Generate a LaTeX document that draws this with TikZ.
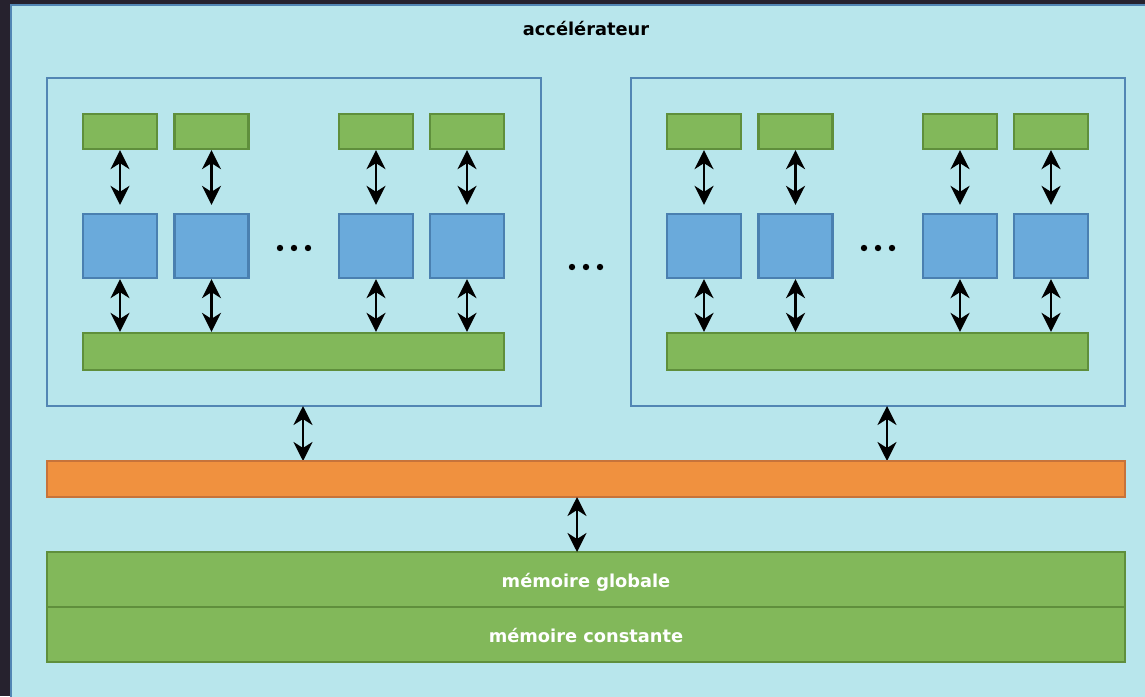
\documentclass[tikz,border=0pt]{standalone}
\usepackage{fontspec}
\setmainfont{DejaVu Sans}
\usetikzlibrary{arrows.meta,calc}
\definecolor{darkbg}{HTML}{26222E}
\definecolor{accfill}{HTML}{B8E6EC}
\definecolor{accline}{HTML}{5286B4}
\definecolor{gfill}{HTML}{82B85A}
\definecolor{gline}{HTML}{5F8F3C}
\definecolor{bfill}{HTML}{6AAADB}
\definecolor{bline}{HTML}{4A80B0}
\definecolor{ofill}{HTML}{F0913F}
\definecolor{oline}{HTML}{C7733A}
\tikzset{
  box/.style={draw, line width=2.3pt, inner sep=0pt, anchor=center},
  cluster/.style={box, draw=accline, fill=none},
  regbox/.style={box, draw=gline, fill=gfill, minimum width=74pt, minimum height=35pt},
  corebox/.style={box, draw=bline, fill=bfill, minimum width=74pt, minimum height=64pt},
  sharedbox/.style={box, draw=gline, fill=gfill, minimum width=421pt, minimum height=37pt},
  busbox/.style={box, draw=oline, fill=ofill, minimum width=1078pt, minimum height=36pt},
  txt/.style={font=\bfseries\fontsize{17.8}{21}\selectfont},
  membox/.style={box, draw=gline, fill=gfill, minimum width=1078pt, minimum height=55pt},
  memtext/.style={txt, text=white, inner sep=0pt},
  link/.style={{Stealth[length=19pt,width=19pt,inset=6pt]}-{Stealth[length=19pt,width=19pt,inset=6pt]}, line width=2.6pt, black},
  dot/.style={fill=black},
}
\newcommand{\threedots}[1]{%
  \fill[dot] ($(#1)+(-14,0)$) circle (3.2pt);
  \fill[dot] (#1) circle (3.2pt);
  \fill[dot] ($(#1)+(14,0)$) circle (3.2pt);}
\begin{document}
\begin{tikzpicture}[x=1pt,y=-1pt]
\useasboundingbox (0,0) rectangle (1145,696);
\fill[darkbg] (0,0) rectangle (1145,696);
\draw[accline, fill=accfill, line width=2pt] (11,5) rectangle (1160,710);
\node[txt, anchor=base] (title) at (586,35) {accélérateur};

% clusters
\foreach \c/\dx in {L/0, R/584}{
  \node[cluster, minimum width=494pt, minimum height=328pt] (cl\c) at (294+\dx,242) {};
  \foreach \i/\x in {1/120, 2/211.5, 3/376, 4/467}{
    \node[regbox] (r\c\i) at (\x+\dx,131.5) {};
    \node[corebox] (k\c\i) at (\x+\dx,246) {};
  }
  \node[sharedbox] (sh\c) at (293.5+\dx,351.5) {};
  \coordinate (dots\c) at (294+\dx,248);
  \threedots{dots\c}
  \foreach \i in {1,2,3,4}{
    \draw[link, shorten >=8pt] (r\c\i.south) -- (k\c\i.north);
    \draw[link] (k\c\i.south) -- (k\c\i.south |- sh\c.north);
  }
  \coordinate (up\c) at (303+\dx,406);
  \coordinate (dn\c) at (303+\dx,461);
  \draw[link] (up\c) -- (dn\c);
}
\coordinate (dotsM) at (586,267);
\threedots{dotsM}

\node[busbox] (bus) at (586,479) {};
\node[membox] (glob) at (586,579.5) {};
\node[membox] (const) at (586,634.5) {};
\node[memtext, anchor=base] (globtxt) at (586,587) {mémoire globale};
\node[memtext, anchor=base] (consttxt) at (586,642) {mémoire constante};

\coordinate (busout) at (577,497);
\coordinate (memin) at (577,552);
\draw[link] (busout) -- (memin);
\end{tikzpicture}
\end{document}
